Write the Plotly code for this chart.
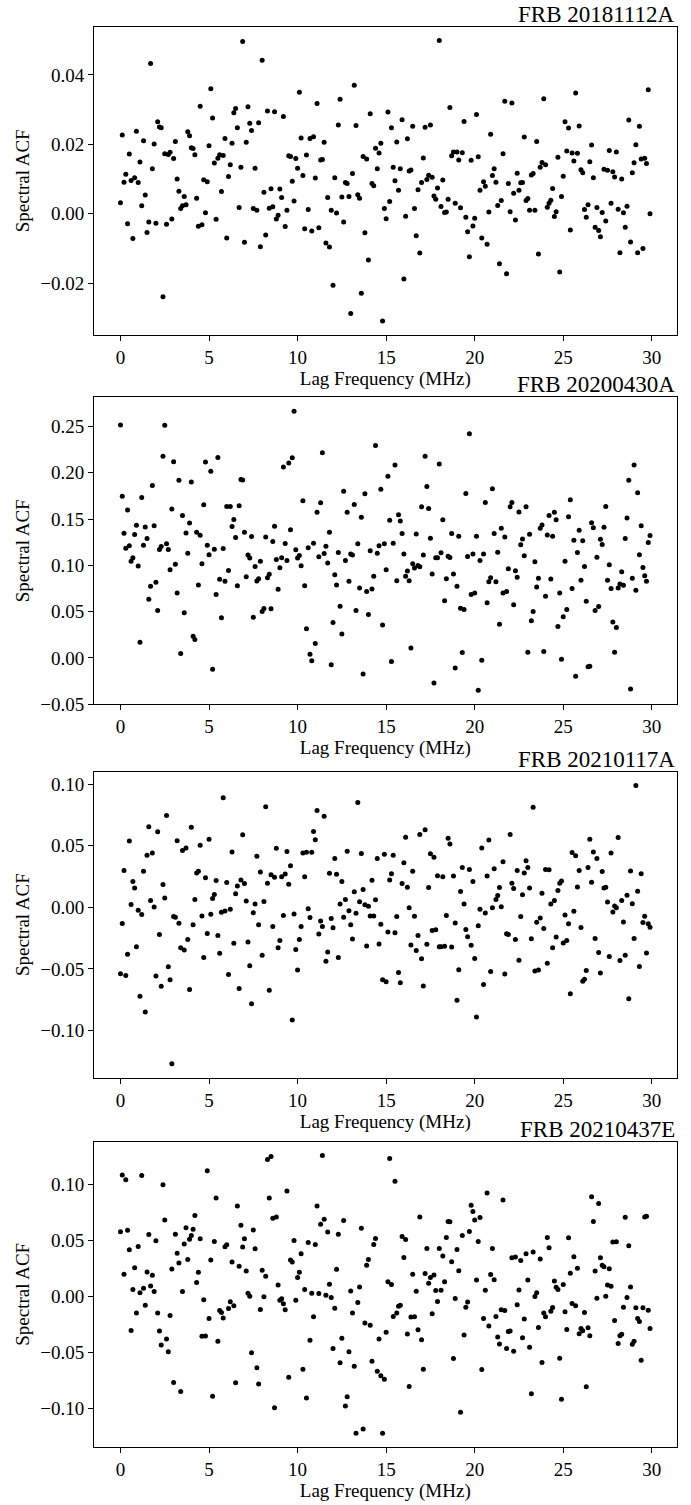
import plotly.graph_objects as go

# Lag grid (MHz): one channel every 0.1 MHz
lag_mhz = [round(0.1 * i, 1) for i in range(300)]

frb_names = ["FRB 20181112A", "FRB 20200430A", "FRB 20210117A", "FRB 20210437E"]

acf_20181112A = [
    0.0032, 0.0227, 0.0091, 0.0114, -0.0029, 0.0172, 0.0096, -0.0071, 0.0104, 0.0238,
    0.0090, 0.0149, 0.0023, 0.0210, 0.0054, -0.0054, -0.0024, 0.0433, 0.0130, 0.0201,
    -0.0027, 0.0265, 0.0250, 0.0248, -0.0239, 0.0173, -0.0030, 0.0171, 0.0177, -0.0015,
    0.0159, 0.0208, 0.0100, 0.0065, 0.0015, 0.0023, 0.0050, 0.0026, 0.0236, 0.0225,
    0.0190, 0.0188, 0.0170, 0.0045, -0.0036, 0.0310, -0.0032, 0.0098, 0.0003, 0.0092,
    0.0196, 0.0360, 0.0276, 0.0146, -0.0016, 0.0160, 0.0170, 0.0064, 0.0168, 0.0217,
    -0.0070, 0.0107, 0.0141, 0.0203, 0.0291, 0.0303, 0.0248, 0.0018, 0.0134, 0.0496,
    -0.0082, 0.0206, 0.0308, 0.0261, 0.0240, 0.0015, 0.0131, 0.0010, 0.0262, -0.0095,
    0.0442, 0.0062, -0.0061, 0.0296, 0.0016, 0.0072, 0.0020, 0.0294, -0.0015, -0.0004,
    0.0071, 0.0047, 0.0280, -0.0037, 0.0010, 0.0167, 0.0165, 0.0094, 0.0037, 0.0159,
    0.0131, 0.0350, 0.0218, 0.0110, -0.0043, 0.0169, 0.0012, 0.0217, -0.0050, 0.0222,
    0.0103, 0.0318, -0.0040, 0.0155, 0.0156, 0.0206, -0.0084, 0.0047, -0.0096, 0.0010,
    -0.0206, 0.0104, 0.0002, 0.0256, 0.0330, 0.0048, -0.0024, 0.0090, 0.0087, 0.0050,
    -0.0287, 0.0116, 0.0370, 0.0254, 0.0055, 0.0045, -0.0229, 0.0165, -0.0055, 0.0158,
    -0.0133, 0.0288, 0.0087, 0.0081, 0.0189, 0.0130, 0.0175, 0.0203, -0.0309, 0.0015,
    -0.0014, 0.0293, 0.0035, 0.0248, 0.0134, 0.0095, 0.0207, 0.0068, 0.0130, 0.0271,
    -0.0188, -0.0007, 0.0216, 0.0123, 0.0126, 0.0252, 0.0015, -0.0063, 0.0069, -0.0113,
    0.0090, 0.0161, 0.0249, 0.0099, 0.0111, 0.0256, 0.0105, 0.0051, 0.0042, 0.0074,
    0.0499, 0.0021, 0.0097, 0.0004, 0.0005, 0.0042, 0.0306, 0.0167, 0.0178, 0.0030,
    0.0178, 0.0155, 0.0017, 0.0176, 0.0266, -0.0010, -0.0052, -0.0124, 0.0154, -0.0035,
    -0.0013, 0.0286, 0.0164, 0.0068, -0.0070, 0.0092, 0.0079, -0.0088, 0.0005, 0.0229,
    0.0110, 0.0130, 0.0091, 0.0024, -0.0144, 0.0038, 0.0173, 0.0324, -0.0173, 0.0087,
    0.0006, 0.0319, 0.0059, -0.0018, 0.0117, 0.0068, 0.0089, 0.0090, 0.0221, 0.0038,
    0.0044, 0.0010, 0.0112, 0.0116, 0.0010, 0.0208, -0.0116, 0.0134, 0.0148, 0.0331,
    0.0141, 0.0019, 0.0030, 0.0039, 0.0073, -0.0008, 0.0006, 0.0163, -0.0168, 0.0050,
    0.0108, 0.0265, 0.0181, 0.0247, -0.0047, 0.0175, 0.0152, 0.0348, 0.0174, 0.0253,
    0.0127, 0.0118, 0.0012, -0.0010, 0.0026, 0.0150, 0.0198, 0.0104, -0.0039, 0.0018,
    -0.0048, -0.0066, 0.0004, 0.0128, -0.0021, 0.0125, 0.0182, 0.0030, 0.0121, 0.0106,
    0.0178, 0.0013, -0.0112, 0.0100, 0.0003, -0.0039, 0.0022, 0.0270, -0.0081, 0.0118,
    0.0147, 0.0199, -0.0112, 0.0252, 0.0158, -0.0100, 0.0160, 0.0145, 0.0357, 0.0000,
]

acf_20200430A = [
    0.2517, 0.1747, 0.1346, 0.1185, 0.1597, 0.1210, 0.1045, 0.1081, 0.1332, 0.1432,
    0.0992, 0.0168, 0.1733, 0.1217, 0.1414, 0.1289, 0.0634, 0.0773, 0.1862, 0.1428,
    0.0816, 0.0512, 0.1171, 0.1203, 0.2177, 0.2513, 0.1232, 0.1171, 0.0952, 0.1607,
    0.2119, 0.1010, 0.0702, 0.1919, 0.0047, 0.1539, 0.0487, 0.1350, 0.1131, 0.1457,
    0.1901, 0.0233, 0.0197, 0.1357, 0.0788, 0.1325, 0.1017, 0.1654, 0.2116, 0.1217,
    0.1113, 0.2016, -0.0122, 0.1174, 0.0684, 0.2166, 0.0848, 0.0433, 0.1181, 0.0827,
    0.1636, 0.0945, 0.1636, 0.1418, 0.1496, 0.1300, 0.0780, 0.1643, 0.1926, 0.1922,
    0.1357, 0.0877, 0.1110, 0.1078, 0.1310, 0.0440, 0.0988, 0.0831, 0.0856, 0.1045,
    0.0501, 0.0533, 0.1307, 0.0866, 0.0902, 0.0530, 0.1257, 0.1421, 0.1063, 0.0741,
    0.0974, 0.1081, 0.2062, 0.1235, 0.1053, 0.2105, 0.1385, 0.2162, 0.2664, 0.1167,
    0.1078, 0.1106, 0.0995, 0.1697, 0.0780, 0.0315, 0.1189, 0.0039, -0.0032, 0.1239,
    0.0154, 0.1572, 0.1092, 0.1675, 0.2216, 0.1128, 0.1206, 0.1024, 0.1357, -0.0075,
    0.0383, 0.0899, 0.0788, 0.1138, 0.0558, 0.0258, 0.1801, 0.1053, 0.1572, 0.0827,
    0.1121, 0.1110, 0.1658, 0.0512, 0.1232, 0.0755, 0.1518, -0.0175, 0.1772, 0.0716,
    0.0469, 0.1156, 0.0745, 0.0881, 0.2295, 0.1131, 0.1210, 0.1822, 0.0354, 0.1232,
    0.0952, 0.1962, 0.1486, -0.0039, 0.1239, 0.2084, 0.0834, 0.1547, 0.1479, 0.1343,
    0.1121, 0.0881, 0.0938, 0.0834, 0.0107, 0.1017, 0.0970, 0.1339, 0.0999, 0.0985,
    0.1632, 0.1110, 0.2177, 0.1851, 0.1615, 0.1292, 0.0906, -0.0272, 0.1081, 0.1081,
    0.2094, 0.1135, 0.1493, 0.0616, 0.0856, 0.1099, 0.1085, 0.1343, 0.0906, -0.0111,
    0.0773, 0.1314, 0.0537, 0.0057, 0.0523, 0.1776, 0.1096, 0.2420, 0.0684, 0.1121,
    0.0702, 0.1314, -0.0351, 0.1053, -0.0025, 0.1121, 0.1679, 0.0594, 0.0823, 0.0866,
    0.1826, 0.1343, 0.0823, 0.1142, 0.0362, 0.1400, 0.0702, 0.1307, 0.0716, 0.0963,
    0.1632, 0.1679, 0.0573, 0.0942, 0.0870, 0.1575, 0.1221, 0.1285, 0.1103, 0.1632,
    0.0061, 0.1335, 0.0401, 0.0501, 0.1038, 0.0766, 0.0859, 0.1400, 0.1436, 0.0068,
    0.0666, 0.1328, 0.1539, 0.0852, 0.1314, 0.1572, 0.1493, 0.0340, 0.0702, -0.0014,
    0.0444, 0.1045, 0.0523, 0.1525, 0.1708, 0.0748, 0.1271, -0.0200, 0.1138, 0.1378,
    0.0838, 0.1264, 0.0988, 0.0612, -0.0097, -0.0090, 0.1461, 0.1407, 0.0512, 0.1088,
    0.0555, 0.1282, 0.1224, 0.1411, 0.1636, 0.0838, 0.1006, 0.0748, 0.0387, 0.0061,
    0.0329, 0.0755, 0.0798, 0.0931, 0.0784, 0.1289, 0.1511, 0.1919, -0.0337, 0.0859,
    0.2084, 0.0730, 0.1783, 0.1113, 0.1428, 0.0977, 0.0888, 0.0827, 0.1246, 0.1321,
]

acf_20210117A = [
    -0.0539, -0.0131, 0.0300, -0.0552, -0.0381, 0.0539, 0.0024, 0.0209, 0.0158, -0.0319,
    -0.0024, -0.0721, -0.0059, 0.0292, -0.0850, 0.0423, 0.0654, 0.0056, 0.0442, 0.0003,
    -0.0557, 0.0614, -0.0220, -0.0641, 0.0185, 0.0075, 0.0745, -0.0482, -0.0587, -0.1270,
    -0.0075, -0.0080, 0.0541, -0.0129, -0.0327, 0.0461, -0.0346, 0.0482, -0.0260, -0.0667,
    0.0649, -0.0142, 0.0064, 0.0279, 0.0292, 0.0504, -0.0070, -0.0407, 0.0241, -0.0212,
    0.0552, -0.0056, 0.0072, 0.0105, 0.0217, -0.0228, -0.0373, -0.0040, 0.0890, -0.0029,
    0.0201, -0.0544, -0.0016, 0.0450, -0.0292, 0.0110, 0.0174, -0.0659, 0.0222, 0.0590,
    0.0193, 0.0051, -0.0281, -0.0474, -0.0783, -0.0043, 0.0027, 0.0415, -0.0142, 0.0287,
    -0.0389, 0.0048, 0.0817, 0.0196, -0.0673, 0.0265, -0.0155, 0.0244, 0.0480, -0.0327,
    -0.0268, 0.0249, -0.0067, 0.0271, 0.0453, 0.0188, 0.0338, -0.0914, -0.0054, -0.0343,
    -0.0509, -0.0260, -0.0155, 0.0442, 0.0249, 0.0448, -0.0011, -0.0083, 0.0448, 0.0616,
    0.0549, 0.0785, -0.0217, -0.0110, -0.0155, 0.0740, -0.0437, -0.0362, 0.0276, -0.0091,
    -0.0166, 0.0397, 0.0268, -0.0407, 0.0027, 0.0209, -0.0080, 0.0064, 0.0456, -0.0027,
    -0.0142, -0.0257, 0.0126, -0.0048, 0.0850, 0.0046, 0.0437, 0.0145, 0.0021, -0.0314,
    0.0008, -0.0070, 0.0220, -0.0070, 0.0062, 0.0397, -0.0297, -0.0137, -0.0587, 0.0431,
    -0.0603, -0.0201, 0.0222, 0.0273, 0.0423, -0.0206, -0.0075, -0.0528, -0.0611, 0.0193,
    0.0362, 0.0568, 0.0163, -0.0003, -0.0306, 0.0292, -0.0072, -0.0351, -0.0228, 0.0592,
    -0.0418, -0.0638, 0.0630, -0.0300, 0.0161, 0.0434, -0.0188, 0.0407, -0.0182, 0.0257,
    -0.0319, -0.0319, 0.0249, -0.0316, -0.0067, 0.0560, 0.0515, -0.0322, 0.0255, -0.0126,
    -0.0753, -0.0507, 0.0129, 0.0324, 0.0027, -0.0180, -0.0239, 0.0308, -0.0308, 0.0209,
    -0.0416, -0.0890, -0.0150, -0.0016, 0.0482, -0.0627, -0.0046, 0.0255, 0.0547, -0.0520,
    -0.0003, 0.0314, 0.0064, 0.0096, 0.0161, 0.0005, 0.0370, -0.0541, -0.0214, -0.0220,
    0.0592, 0.0196, 0.0153, -0.0260, 0.0300, -0.0429, -0.0075, 0.0102, 0.0279, 0.0378,
    0.0324, 0.0158, -0.0255, 0.0812, -0.0517, -0.0121, -0.0509, -0.0086, 0.0115, -0.0172,
    0.0308, -0.0453, 0.0306, 0.0027, -0.0327, 0.0056, -0.0241, 0.0137, 0.0196, 0.0214,
    -0.0289, -0.0062, -0.0268, -0.0134, -0.0702, 0.0445, -0.0032, 0.0418, 0.0166, 0.0300,
    -0.0163, -0.0600, -0.0584, -0.0512, 0.0324, 0.0552, 0.0204, 0.0450, -0.0252, 0.0396,
    -0.0367, -0.0533, 0.0290, 0.0158, 0.0163, 0.0043, -0.0399, 0.0440, -0.0038, 0.0011,
    -0.0003, 0.0566, -0.0432, 0.0056, -0.0118, -0.0389, 0.0099, -0.0742, 0.0295, 0.0029,
    -0.0252, 0.0989, 0.0131, -0.0480, 0.0273, -0.0123, -0.0072, -0.0370, -0.0134, -0.0161,
]

acf_20210437E = [
    0.0579, 0.1086, 0.0199, 0.1044, 0.0593, 0.0418, -0.0303, 0.0062, 0.0258, -0.0148,
    0.0448, 0.0033, 0.1083, 0.0074, -0.0077, 0.0220, 0.0555, 0.0095, 0.0190, 0.0045,
    0.0498, -0.0148, -0.0309, -0.0433, 0.1000, 0.0685, -0.0380, -0.0493, -0.0169, 0.0246,
    -0.0768, 0.0558, 0.0386, 0.0300, -0.0849, 0.0045, 0.0469, 0.0614, 0.0332, 0.0513,
    0.0546, 0.0602, 0.0724, 0.0125, 0.0217, 0.0516, -0.0356, -0.0030, -0.0353, 0.1124,
    -0.0196, 0.0326, -0.0893, 0.0493, 0.0881, -0.0401, -0.0125, -0.0142, -0.0193, 0.0445,
    0.0463, -0.0107, -0.0047, 0.0309, -0.0083, -0.0771, 0.0810, 0.0270, 0.0638, 0.0442,
    0.0516, 0.0228, 0.0030, 0.0003, -0.0504, 0.0596, 0.0427, -0.0638, -0.0783, -0.0116,
    0.0234, -0.0003, 0.0181, 0.1225, 0.0881, 0.1252, 0.0700, -0.0994, 0.0712, 0.0104,
    -0.0033, -0.0021, -0.0065, -0.0119, 0.0944, -0.0721, 0.0326, 0.0309, 0.0501, -0.0033,
    0.0169, 0.0217, 0.0383, -0.0650, 0.0062, -0.0908, 0.0484, -0.0392, 0.0030, -0.0181,
    0.0466, 0.0810, 0.0027, 0.0647, 0.1261, 0.0691, 0.0012, 0.0576, 0.0110, -0.0009,
    -0.0466, -0.0104, 0.0243, 0.0558, -0.0593, -0.0374, 0.0679, -0.0979, -0.0896, -0.0493,
    0.0050, -0.0148, -0.0623, -0.1222, -0.0053, 0.0086, 0.0611, -0.1184, -0.0237, 0.0279,
    0.0332, -0.0258, -0.0579, 0.0466, 0.0519, -0.0668, -0.0380, -0.0709, -0.1222, -0.0739,
    -0.0320, 0.0131, 0.1234, 0.0107, -0.0178, 0.1030, -0.0148, -0.0086, -0.0077, 0.0537,
    0.0350, 0.0510, -0.0335, -0.0804, -0.0184, 0.0199, -0.0181, 0.0047, -0.0297, 0.0712,
    -0.0386, -0.0650, 0.0205, 0.0430, 0.0119, 0.0169, -0.0154, 0.0193, 0.0053, -0.0045,
    0.0430, 0.0056, 0.0362, 0.0131, 0.0528, 0.0671, 0.0668, 0.0312, -0.0555, -0.0018,
    0.0421, 0.0231, -0.1035, 0.0546, -0.0344, -0.0095, -0.0050, 0.0582, 0.0816, 0.0760,
    0.0685, 0.0148, 0.0493, 0.0706, -0.0653, -0.0196, 0.0056, 0.0926, -0.0264, 0.0196,
    0.0430, 0.0151, -0.0178, -0.0362, -0.0424, -0.0119, 0.0863, -0.0125, -0.0466, -0.0312,
    -0.0309, 0.0347, -0.0490, 0.0353, -0.0074, 0.0059, 0.0323, -0.0368, -0.0202, 0.0383,
    0.0148, -0.0454, -0.0869, 0.0398, 0.0000, 0.0033, -0.0276, 0.0335, -0.0590, -0.0148,
    -0.0181, 0.0528, 0.0436, -0.0131, -0.0098, 0.0139, 0.0083, 0.0062, -0.0552, -0.0920,
    0.0107, -0.0136, -0.0294, 0.0525, 0.0208, -0.0062, 0.0356, -0.0083, 0.0252, -0.0332,
    -0.0285, -0.0306, -0.0142, -0.0807, -0.0279, -0.0350, 0.0893, 0.0671, 0.0228, -0.0015,
    0.0831, 0.0347, 0.0279, 0.0267, 0.0003, 0.0104, 0.0249, 0.0092, 0.0487, -0.0214,
    0.0490, -0.0421, -0.0350, -0.0338, -0.0095, 0.0709, -0.0009, 0.0454, 0.0086, -0.0427,
    -0.0401, -0.0101, -0.0196, -0.0223, -0.0570, -0.0101, 0.0712, 0.0718, -0.0122, -0.0285,
]

series = [acf_20181112A, acf_20200430A, acf_20210117A, acf_20210437E]
x_ticks = [0, 5, 10, 15, 20, 25, 30]
y_ticks = [
    [-0.02, 0.00, 0.02, 0.04],
    [-0.05, 0.00, 0.05, 0.10, 0.15, 0.20, 0.25],
    [-0.10, -0.05, 0.00, 0.05, 0.10],
    [-0.10, -0.05, 0.00, 0.05, 0.10],
]

# ---- layout (pixel geometry of each panel frame) ----
W, H = 691, 1505
FONT = "Liberation Serif, Times New Roman, serif"
frame_left, frame_right = 94.0, 676.5
frames = [(26.7, 337.3), (400.0, 709.0), (776.7, 1085.0), (1149.3, 1456.7)]

fig = go.Figure()
annotations = []
layout_axes = {}
for i, (name, vals) in enumerate(zip(frb_names, series)):
    n = len(vals)
    sfx = "" if i == 0 else str(i + 1)
    fig.add_trace(go.Scatter(
        x=lag_mhz[:n], y=vals, mode="markers",
        marker=dict(color="black", size=5, line=dict(width=0)),
        xaxis="x" + sfx, yaxis="y" + sfx, showlegend=False,
        hovertemplate="%{x:.1f} MHz, %{y:.4f}<extra></extra>",
    ))
    lo, hi = min(vals), max(vals)
    pad = 0.05 * (hi - lo)
    xlo, xhi = min(lag_mhz[:n]), max(lag_mhz[:n])
    xpad = 0.05 * (xhi - xlo)
    top, bot = frames[i]
    ydom = [1 - bot / H, 1 - top / H]
    xdom = [frame_left / W, frame_right / W]
    axis_common = dict(
        showline=True, mirror=True, linecolor="black", linewidth=1,
        showgrid=False, zeroline=False, ticks="outside", ticklen=5,
        tickwidth=1, tickcolor="black",
        tickfont=dict(family=FONT, size=19, color="black"),
    )
    layout_axes["xaxis" + sfx] = dict(
        axis_common, domain=xdom, anchor="y" + sfx,
        range=[xlo - xpad, xhi + xpad], tickvals=x_ticks,
        title=dict(text="Lag Frequency (MHz)", standoff=1,
                   font=dict(family=FONT, size=19, color="black")),
    )
    layout_axes["yaxis" + sfx] = dict(
        axis_common, domain=ydom, anchor="x" + sfx,
        range=[lo - pad, hi + pad], tickvals=y_ticks[i], tickformat=".2f",
        title=dict(text="Spectral ACF", standoff=5,
                   font=dict(family=FONT, size=19, color="black")),
    )
    annotations.append(dict(
        text=name, xref="paper", yref="paper",
        x=frame_right / W, y=1 - top / H, xanchor="right", yanchor="bottom",
        showarrow=False, yshift=-2,
        font=dict(family=FONT, size=23, color="black"),
    ))

fig.update_layout(
    width=W, height=H,
    margin=dict(l=0, r=0, t=0, b=0),
    paper_bgcolor="white", plot_bgcolor="white",
    annotations=annotations,
    **layout_axes,
)

fig.write_html(
    "out.html",
    config={"displayModeBar": False},
    post_script="document.body.style.margin='0';document.body.style.overflow='hidden';",
)
